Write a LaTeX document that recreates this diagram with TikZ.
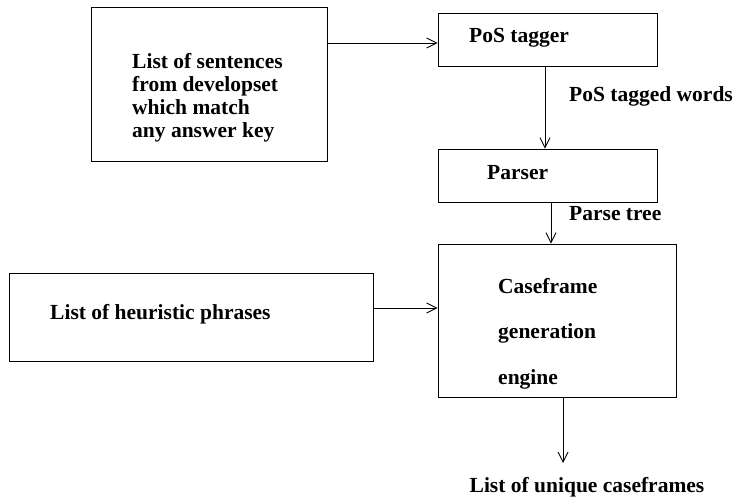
\documentclass[tikz,border=0pt]{standalone}
\usepackage{fontspec}
\setmainfont{Liberation Serif}
\usetikzlibrary{arrows.meta}
\tikzset{
  box/.style={draw, line width=0.9pt, inner sep=0pt},
  lbl/.style={anchor=west, inner sep=0pt, font=\fontsize{21.5}{23}\selectfont\bfseries},
  arr/.style={line width=0.9pt, -{Straight Barb[length=10pt,width=10pt,line width=0.9pt]}}
}
\begin{document}
\begin{tikzpicture}[x=1pt,y=-1pt]
\useasboundingbox (0,0) rectangle (743,498);

% boxes
\node[box, minimum width=236pt, minimum height=154pt] (src)    at (209,84) {};
\node[box, minimum width=219pt, minimum height=53pt]  (tagger) at (547.5,40) {};
\node[box, minimum width=219pt, minimum height=53pt]  (parser) at (547.5,175.5) {};
\node[box, minimum width=238pt, minimum height=153pt] (engine) at (557,320.5) {};
\node[box, minimum width=364pt, minimum height=88pt]  (heur)   at (191,317) {};

% texts inside the boxes
\node[lbl, align=left, anchor=north west] (srctext) at (132,53)
  {List of sentences\\from developset\\which match\\any answer key};
\node[lbl] (taggertext) at (469,38) {PoS tagger};
\node[lbl] (parsertext) at (487,173) {Parser};
\node[lbl] (eng1) at (498,286) {Caseframe};
\node[lbl] (eng2) at (498,333) {generation};
\node[lbl] (eng3) at (498,379) {engine};
\node[lbl] (heurtext) at (50,314) {List of heuristic phrases};

% edge labels and output
\node[lbl] (words) at (569,96) {PoS tagged words};
\node[lbl] (tree) at (569,214) {Parse tree};
\node[lbl, anchor=center] (out) at (587,487) {List of unique caseframes};
\coordinate (outtip) at (563,463);

% connectors
\draw[arr] ([yshift=-3pt]src.east |- tagger.west) -- ([yshift=-3pt]tagger.west);
\draw[arr] ([xshift=-2.5pt]tagger.south) -- ([xshift=-2.5pt]parser.north);
\draw[arr] ([xshift=3.5pt]parser.south) -- ([xshift=-6pt]engine.north);
\draw[arr] ([yshift=9pt]heur.east) -- ([yshift=12.5pt]engine.west);
\draw[arr] (engine.south -| outtip) -- (outtip);
\end{tikzpicture}
\end{document}
